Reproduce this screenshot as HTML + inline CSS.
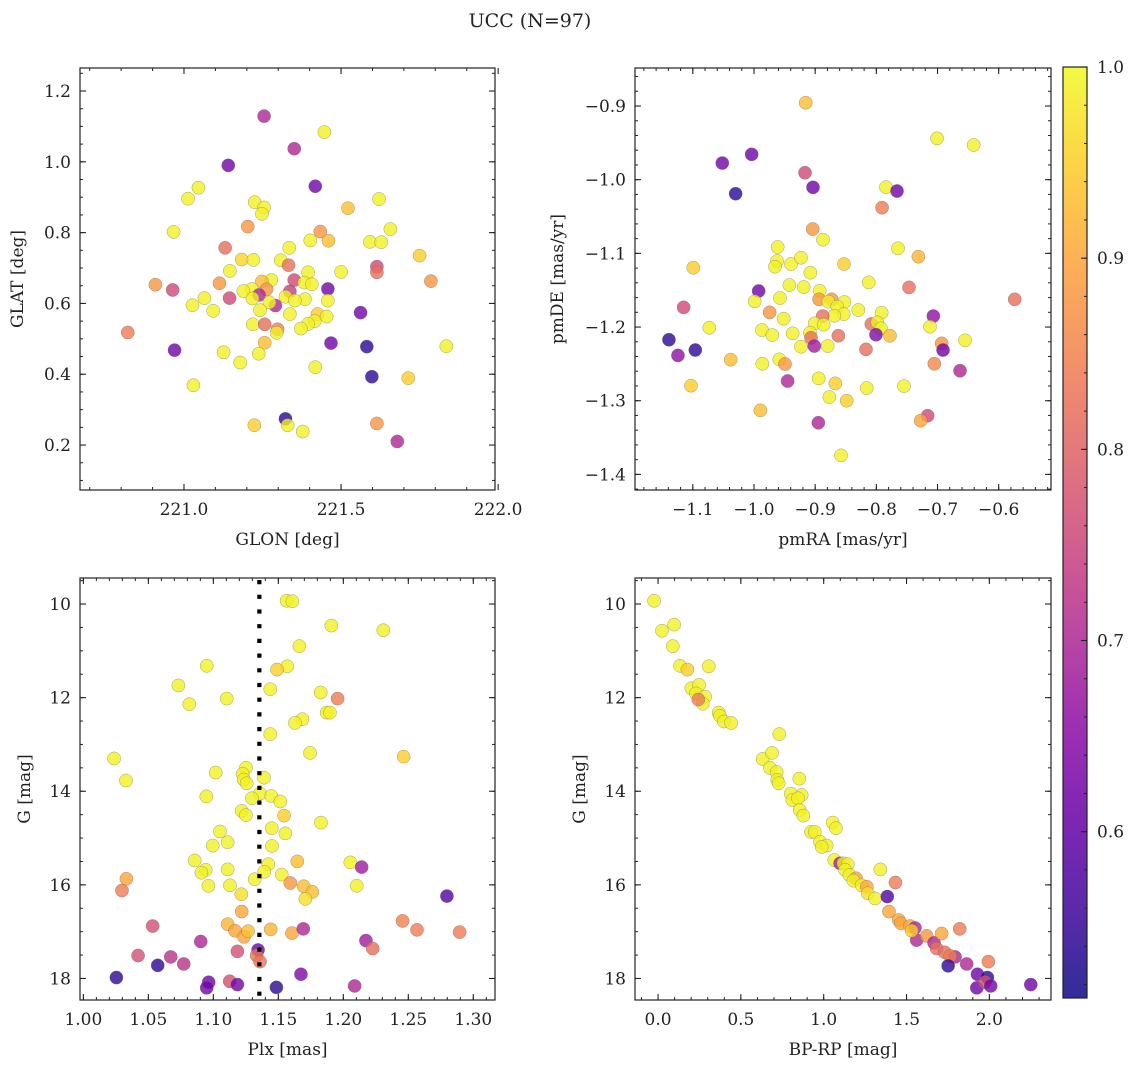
<!DOCTYPE html>
<html><head><meta charset="utf-8">
<style>
html,body{margin:0;padding:0;background:#fff;}
svg text{font-family:"DejaVu Serif","Liberation Serif",serif;fill:#222;}
</style></head>
<body>
<svg id="fig" width="1136" height="1067" xmlns="http://www.w3.org/2000/svg">
<defs>
<linearGradient id="plasma" x1="0" y1="1" x2="0" y2="0">
<stop offset="0" stop-color="#0d0887"/><stop offset="0.1" stop-color="#41049d"/><stop offset="0.2" stop-color="#6a00a8"/><stop offset="0.3" stop-color="#8f0da4"/><stop offset="0.4" stop-color="#b12a90"/><stop offset="0.5" stop-color="#cc4778"/><stop offset="0.6" stop-color="#e16462"/><stop offset="0.7" stop-color="#f2844b"/><stop offset="0.8" stop-color="#fca636"/><stop offset="0.9" stop-color="#fcce25"/><stop offset="1" stop-color="#f0f921"/>
</linearGradient>
</defs>
<text x="530" y="27" font-size="19" text-anchor="middle">UCC (N=97)</text>
</svg>
<script>
// ---- Data ----
const glon=[221.255,221.447,221.351,221.141,221.418,221.046,221.013,221.621,221.225,221.255,221.522,221.248,221.203,221.657,220.967,221.434,221.402,221.460,221.592,221.628,221.131,221.335,221.750,221.184,221.221,221.308,221.333,221.614,221.614,221.395,221.500,221.146,221.786,220.909,221.113,221.351,221.278,221.248,221.383,221.407,220.964,221.458,221.216,221.189,221.263,221.239,221.337,221.065,221.145,221.218,221.323,221.458,221.385,221.353,221.027,221.291,221.272,221.562,221.093,221.242,221.337,221.425,221.454,221.416,221.395,221.219,221.257,221.372,221.298,221.295,220.821,221.257,221.468,221.582,221.835,220.970,221.126,221.238,221.179,221.418,221.598,221.714,221.030,221.323,221.224,221.330,221.378,221.614,221.679];
const glat=[1.129,1.084,1.037,0.990,0.931,0.927,0.896,0.895,0.886,0.871,0.869,0.853,0.817,0.810,0.802,0.803,0.778,0.777,0.774,0.773,0.757,0.757,0.735,0.724,0.723,0.722,0.708,0.704,0.688,0.688,0.689,0.692,0.663,0.653,0.657,0.666,0.666,0.662,0.659,0.654,0.638,0.641,0.641,0.635,0.640,0.624,0.634,0.615,0.615,0.614,0.619,0.608,0.612,0.608,0.595,0.594,0.603,0.574,0.579,0.581,0.570,0.570,0.563,0.550,0.542,0.541,0.541,0.529,0.527,0.517,0.518,0.489,0.488,0.478,0.479,0.468,0.462,0.458,0.433,0.420,0.393,0.389,0.369,0.274,0.256,0.256,0.238,0.261,0.210];
const prob1=[0.70,0.99,0.70,0.62,0.62,0.99,0.99,0.99,0.99,0.99,0.93,0.99,0.88,0.99,0.99,0.88,0.99,0.93,0.99,0.99,0.82,0.99,0.95,0.96,0.99,0.99,0.82,0.76,0.82,0.99,0.99,0.99,0.88,0.88,0.88,0.76,0.99,0.93,0.99,0.99,0.76,0.62,0.99,0.99,0.88,0.70,0.74,0.99,0.76,0.99,0.99,0.99,0.99,0.99,0.99,0.70,0.99,0.62,0.99,0.99,0.99,0.95,0.99,0.99,0.99,0.99,0.82,0.99,0.85,0.99,0.84,0.93,0.62,0.54,0.99,0.62,0.99,0.99,0.99,0.99,0.54,0.95,0.99,0.54,0.95,0.99,0.99,0.88,0.70];

const pmra=[-0.9155,-0.7008,-0.6409,-1.0518,-1.0038,-0.9166,-0.9035,-1.0300,-0.7842,-0.7662,-0.7907,-0.9041,-0.8872,-0.9613,-0.7646,-0.7313,-0.9624,-0.9657,-0.9395,-0.9232,-1.0992,-0.8529,-0.9079,-0.8125,-0.9422,-0.9188,-0.7466,-0.9924,-0.8926,-0.5738,-0.9575,-0.9989,-0.8937,-0.8730,-0.8785,-0.8523,-0.8638,-1.1150,-0.8294,-0.9744,-0.7913,-0.8534,-0.8687,-0.7068,-0.8877,-0.9515,-0.8082,-0.7984,-0.9008,-0.8861,-1.0730,-0.7123,-0.9869,-0.7924,-0.9368,-0.9700,-0.9084,-0.8621,-0.8006,-0.7777,-1.1390,-0.6550,-0.6932,-0.9068,-0.9014,-0.8796,-0.9232,-1.0959,-0.8169,-0.6910,-1.1243,-1.0381,-0.9586,-0.9493,-0.9864,-0.7052,-0.6632,-0.9450,-0.8943,-0.8670,-1.1030,-0.8158,-0.7548,-0.8768,-0.8485,-0.9896,-0.7161,-0.7275,-0.8948,-0.8578];
const pmde=[-0.8955,-0.9439,-0.9529,-0.9774,-0.9656,-0.9905,-1.0104,-1.0190,-1.0100,-1.0154,-1.0380,-1.0670,-1.0814,-1.0914,-1.0932,-1.1045,-1.1104,-1.1181,-1.1145,-1.1059,-1.1195,-1.1145,-1.1262,-1.1394,-1.1430,-1.1457,-1.1462,-1.1511,-1.1507,-1.1624,-1.1606,-1.1652,-1.1624,-1.1624,-1.1656,-1.1661,-1.1724,-1.1733,-1.1769,-1.1801,-1.1805,-1.1824,-1.1846,-1.1851,-1.1851,-1.1887,-1.1959,-1.1937,-1.1950,-1.1968,-1.2009,-1.1995,-1.2041,-1.2018,-1.2086,-1.2109,-1.2077,-1.2118,-1.2104,-1.2118,-1.2172,-1.2181,-1.2222,-1.2145,-1.2258,-1.2258,-1.2267,-1.2312,-1.2303,-1.2312,-1.2385,-1.2443,-1.2439,-1.2502,-1.2498,-1.2498,-1.2593,-1.2733,-1.2697,-1.2765,-1.2796,-1.2828,-1.2801,-1.2950,-1.3000,-1.3131,-1.3204,-1.3271,-1.3299,-1.3742];
const prob2=[0.93,0.99,0.99,0.62,0.62,0.76,0.62,0.54,0.99,0.62,0.84,0.88,0.99,0.99,0.99,0.92,0.99,0.99,0.99,0.99,0.95,0.95,0.99,0.99,0.99,0.99,0.82,0.62,0.99,0.82,0.99,0.99,0.88,0.88,0.99,0.99,0.99,0.76,0.99,0.88,0.99,0.99,0.99,0.66,0.82,0.99,0.82,0.99,0.99,0.99,0.99,0.99,0.99,0.99,0.99,0.99,0.99,0.82,0.64,0.93,0.54,0.99,0.88,0.82,0.68,0.99,0.99,0.54,0.82,0.62,0.66,0.93,0.99,0.88,0.99,0.86,0.70,0.70,0.99,0.95,0.95,0.99,0.99,0.99,0.95,0.93,0.76,0.90,0.70,0.99];

const plx=[1.1564,1.1608,1.1908,1.2308,1.1662,1.0949,1.1569,1.1490,1.0731,1.1438,1.1826,1.1103,1.1956,1.0815,1.1872,1.1897,1.1685,1.1628,1.1438,1.1744,1.0236,1.2464,1.1251,1.1226,1.1018,1.0328,1.1390,1.1233,1.1256,1.1359,1.1297,1.1446,1.0946,1.1515,1.1218,1.1251,1.1544,1.1828,1.1051,1.1449,1.1554,1.1110,1.0995,1.1451,1.0856,1.1646,1.2054,1.2141,1.0941,1.0908,1.1423,1.1110,1.1392,1.1318,1.1526,1.0331,1.0297,1.0962,1.1128,1.1592,1.1695,1.1762,1.1708,1.2103,1.2797,1.1215,1.1218,1.0533,1.1110,1.1167,1.1236,1.1267,1.1441,1.1605,1.1692,1.2456,1.2567,1.2895,1.0903,1.2174,1.2226,1.1344,1.1185,1.1333,1.1359,1.0421,1.0672,1.0772,1.0572,1.1674,1.0254,1.0964,1.1126,1.1185,1.0949,1.1485,1.2087];
const gmag3=[9.93,9.94,10.46,10.56,10.90,11.32,11.33,11.40,11.74,11.82,11.89,12.02,12.02,12.14,12.32,12.32,12.46,12.54,12.78,13.18,13.30,13.26,13.50,13.63,13.60,13.77,13.71,13.75,13.83,14.05,14.15,14.10,14.11,14.22,14.42,14.51,14.52,14.67,14.86,14.79,14.90,15.09,15.16,15.17,15.48,15.50,15.52,15.62,15.68,15.74,15.56,15.67,15.72,15.88,15.78,15.87,16.12,16.02,16.01,15.96,16.03,16.15,16.30,16.02,16.24,16.20,16.57,16.88,16.84,16.98,17.11,16.99,16.95,17.03,16.94,16.77,16.96,17.01,17.21,17.19,17.36,17.39,17.42,17.51,17.64,17.51,17.54,17.69,17.72,17.91,17.98,18.08,18.06,18.13,18.20,18.19,18.16];
const prob3=[0.99,0.99,0.99,0.99,0.99,0.99,0.99,0.95,0.99,0.99,0.99,0.99,0.84,0.99,0.99,0.99,0.99,0.99,0.99,0.99,0.99,0.95,0.99,0.99,0.99,0.99,0.99,0.99,0.99,0.99,0.99,0.99,0.99,0.99,0.99,0.99,0.95,0.99,0.99,0.99,0.99,0.99,0.99,0.99,0.99,0.93,0.99,0.68,0.99,0.99,0.99,0.99,0.99,0.99,0.99,0.90,0.84,0.99,0.99,0.88,0.93,0.93,0.97,0.99,0.58,0.97,0.90,0.77,0.92,0.90,0.90,0.93,0.92,0.90,0.70,0.85,0.84,0.84,0.70,0.68,0.82,0.62,0.77,0.83,0.83,0.77,0.72,0.72,0.54,0.64,0.54,0.62,0.77,0.62,0.62,0.54,0.70];

const bprp=[-0.024,0.024,0.097,0.089,0.133,0.177,0.306,0.201,0.247,0.229,0.284,0.270,0.243,0.366,0.374,0.398,0.441,0.732,0.632,0.688,0.676,0.716,0.720,0.728,0.853,0.801,0.811,0.867,0.845,0.855,0.877,0.924,0.946,0.978,1.018,0.988,1.054,1.074,1.064,1.099,1.119,1.145,1.129,1.155,1.195,1.179,1.229,1.260,1.266,1.310,1.342,1.384,1.433,1.394,1.453,1.465,1.521,1.551,1.561,1.531,1.622,1.666,1.682,1.712,1.730,1.793,1.763,1.751,1.821,1.863,1.994,1.928,1.988,1.924,1.974,2.008,2.250];
const gmag4=[9.93,10.57,10.44,10.90,11.32,11.40,11.33,11.80,11.73,11.91,11.98,12.13,12.04,12.32,12.39,12.51,12.54,12.78,13.31,13.18,13.50,13.59,13.76,13.83,13.73,14.05,14.19,14.08,14.15,14.40,14.52,14.87,14.87,15.08,15.16,15.19,14.67,14.79,15.47,15.54,15.54,15.56,15.68,15.79,15.86,15.91,16.01,16.04,16.18,16.29,15.67,16.25,15.95,16.57,16.75,16.82,16.88,16.92,17.18,16.98,17.09,17.24,17.36,17.04,17.44,17.54,17.52,17.73,16.94,17.69,17.64,17.91,17.98,18.20,18.08,18.16,18.13];
const prob4=[0.99,0.99,0.99,0.99,0.99,0.95,0.99,0.99,0.99,0.99,0.99,0.99,0.84,0.99,0.99,0.99,0.99,0.99,0.99,0.99,0.99,0.99,0.99,0.99,0.99,0.99,0.99,0.99,0.99,0.99,0.99,0.99,0.99,0.99,0.99,0.99,0.99,0.99,0.99,0.68,0.99,0.99,0.99,0.99,0.90,0.99,0.99,0.90,0.97,0.99,0.99,0.58,0.84,0.90,0.90,0.90,0.90,0.70,0.70,0.95,0.88,0.70,0.82,0.90,0.82,0.70,0.84,0.54,0.84,0.70,0.84,0.62,0.54,0.62,0.77,0.62,0.62];

const plxMedian=[1.1354];
const cbTicks=[0.6,0.7,0.8,0.9,1.0];
const ticks1x=[221.0,221.5,222.0], ticks1y=[0.2,0.4,0.6,0.8,1.0,1.2];
const ticks2x=[-1.1,-1.0,-0.9,-0.8,-0.7,-0.6], ticks2y=[-1.4,-1.3,-1.2,-1.1,-1.0,-0.9];
const ticks3x=[1.00,1.05,1.10,1.15,1.20,1.25,1.30], ticksGy=[10,12,14,16,18];
const ticks4x=[0.0,0.5,1.0,1.5,2.0];

// ---- rendering ----
const NS='http://www.w3.org/2000/svg';
const svg=document.getElementById('fig');
const VMIN=0.513, VMAX=1.0;
const FS=17;
const stops=['#0d0887','#41049d','#6a00a8','#8f0da4','#b12a90','#cc4778','#e16462','#f2844b','#fca636','#fcce25','#f0f921'];
function hex(h){return [1,3,5].map(i=>parseInt(h.substr(i,2),16));}
function cmap(p){let t=(p-VMIN)/(VMAX-VMIN);t=Math.max(0,Math.min(1,t));const f=t*10,i=Math.min(9,Math.floor(f)),r=f-i;const a=hex(stops[i]),b=hex(stops[i+1]);return 'rgb('+a.map((v,k)=>Math.round(v+(b[k]-v)*r)).join(',')+')';}
function mk(tag,attrs,parent){const e=document.createElementNS(NS,tag);for(const k in attrs)e.setAttribute(k,attrs[k]);(parent||svg).appendChild(e);return e;}
function fmt(v,d){let s=v.toFixed(d);if(v<0)s='\u2212'+s.slice(1);return s;}

function panel(cfg){
  const g=mk('g',{});
  
  
  const X=v=>cfg.x0+(v-cfg.xd[0])/(cfg.xd[1]-cfg.xd[0])*(cfg.x1-cfg.x0);
  const Y=v=>cfg.y0+(v-cfg.yd[0])/(cfg.yd[1]-cfg.yd[0])*(cfg.y1-cfg.y0);
  for(let i=0;i<cfg.xs.length;i++){
    const c=mk('circle',{cx:X(cfg.xs[i]),cy:Y(cfg.ys[i]),r:6.6,fill:cmap(cfg.ps[i]),'fill-opacity':0.8,stroke:'#666','stroke-width':0.5,'stroke-opacity':0.6},g);
    
    
  }
  if(cfg.vline){
    const l=mk('line',{x1:X(cfg.vline),x2:X(cfg.vline),y1:cfg.y0+2,y2:cfg.y1,stroke:'#000','stroke-width':4.2,'stroke-dasharray':'4.2,10.5'},g);
    
    
  }
  const fr=mk('rect',{x:cfg.x0,y:cfg.y0,width:cfg.x1-cfg.x0,height:cfg.y1-cfg.y0,fill:'none',stroke:'#222','stroke-width':1.2},g);
  
  
  const xa=Math.min(cfg.xd[0],cfg.xd[1]), xb=Math.max(cfg.xd[0],cfg.xd[1]);
  for(let v=Math.ceil(xa/cfg.xmin-1e-6)*cfg.xmin;v<=xb+1e-9;v+=cfg.xmin){
    const px=X(v);
    mk('line',{x1:px,x2:px,y1:cfg.y1,y2:cfg.y1-3,stroke:'#222','stroke-width':1},g);
    mk('line',{x1:px,x2:px,y1:cfg.y0,y2:cfg.y0+3,stroke:'#222','stroke-width':1},g);
  }
  const ya=Math.min(cfg.yd[0],cfg.yd[1]), yb=Math.max(cfg.yd[0],cfg.yd[1]);
  for(let v=Math.ceil(ya/cfg.ymin-1e-6)*cfg.ymin;v<=yb+1e-9;v+=cfg.ymin){
    const py=Y(v);
    mk('line',{x1:cfg.x0,x2:cfg.x0+3,y1:py,y2:py,stroke:'#222','stroke-width':1},g);
    mk('line',{x1:cfg.x1,x2:cfg.x1-3,y1:py,y2:py,stroke:'#222','stroke-width':1},g);
  }
  cfg.xt.forEach(v=>{
    const px=X(v);
    mk('line',{x1:px,x2:px,y1:cfg.y1,y2:cfg.y1-6,stroke:'#222','stroke-width':1.1},g);
    mk('line',{x1:px,x2:px,y1:cfg.y0,y2:cfg.y0+6,stroke:'#222','stroke-width':1.1},g);
    const t=mk('text',{x:px,y:cfg.y1+25,'font-size':FS,'text-anchor':'middle'},g);
    t.textContent=fmt(v,cfg.xdec);
    
    
  });
  cfg.yt.forEach(v=>{
    const py=Y(v);
    mk('line',{x1:cfg.x0,x2:cfg.x0+6,y1:py,y2:py,stroke:'#222','stroke-width':1.1},g);
    mk('line',{x1:cfg.x1,x2:cfg.x1-6,y1:py,y2:py,stroke:'#222','stroke-width':1.1},g);
    const t=mk('text',{x:cfg.x0-9,y:py+6,'font-size':FS,'text-anchor':'end'},g);
    t.textContent=fmt(v,cfg.ydec);
    
    
  });
  const xl=mk('text',{x:(cfg.x0+cfg.x1)/2,y:cfg.y1+55,'font-size':FS,'text-anchor':'middle'},g);
  xl.textContent=cfg.xlabel;
  
  
  const yx=cfg.ylx, yy=(cfg.y0+cfg.y1)/2;
  const yl=mk('text',{x:yx,y:yy,'font-size':FS,'text-anchor':'middle',transform:'rotate(-90 '+yx+' '+yy+')'},g);
  yl.textContent=cfg.ylabel;
  
  
}

panel({name:'glon-glat-panel',x0:80,x1:495,y0:68,y1:490,xd:[220.669,221.990],yd:[1.265,0.073],xs:glon,ys:glat,ps:prob1,xt:ticks1x,yt:ticks1y,xmin:0.1,ymin:0.05,xdec:1,ydec:1,xlabel:'GLON [deg]',ylabel:'GLAT [deg]',ylx:23});
panel({name:'pmra-pmde-panel',x0:635,x1:1051,y0:68,y1:490,xd:[-1.1945,-0.5145],yd:[-0.8484,-1.4212],xs:pmra,ys:pmde,ps:prob2,xt:ticks2x,yt:ticks2y,xmin:0.02,ymin:0.02,xdec:1,ydec:1,xlabel:'pmRA [mas/yr]',ylabel:'pmDE [mas/yr]',ylx:563});
panel({name:'plx-g-panel',x0:80,x1:495,y0:578,y1:1000,xd:[0.9974,1.3167],yd:[9.444,18.46],xs:plx,ys:gmag3,ps:prob3,xt:ticks3x,yt:ticksGy,xmin:0.01,ymin:0.5,xdec:2,ydec:0,xlabel:'Plx [mas]',ylabel:'G [mag]',ylx:30,vline:plxMedian[0]});
panel({name:'color-magnitude-panel',x0:635,x1:1051,y0:578,y1:1000,xd:[-0.139,2.372],yd:[9.444,18.46],xs:bprp,ys:gmag4,ps:prob4,xt:ticks4x,yt:ticksGy,xmin:0.1,ymin:0.5,xdec:1,ydec:0,xlabel:'BP-RP [mag]',ylabel:'G [mag]',ylx:585});

const cb=mk('g',{});


const CB={x:1063,w:24,y0:67,y1:998};
const cbr=mk('rect',{x:CB.x,y:CB.y0,width:CB.w,height:CB.y1-CB.y0,fill:'url(#plasma)','fill-opacity':0.85,stroke:'#222','stroke-width':1.2},cb);


const CY=v=>CB.y1-(v-VMIN)/(VMAX-VMIN)*(CB.y1-CB.y0);
for(let v=0.52;v<=1.0001;v+=0.02){const py=CY(v);mk('line',{x1:CB.x+CB.w,x2:CB.x+CB.w-3,y1:py,y2:py,stroke:'#222','stroke-width':1},cb);}
cbTicks.forEach(v=>{
  const py=CY(v);
  mk('line',{x1:CB.x+CB.w,x2:CB.x+CB.w-6,y1:py,y2:py,stroke:'#222','stroke-width':1.1},cb);
  const t=mk('text',{x:CB.x+CB.w+10,y:py+6,'font-size':FS},cb);
  t.textContent=v.toFixed(1);
  
  
});
</script>
</body></html>
